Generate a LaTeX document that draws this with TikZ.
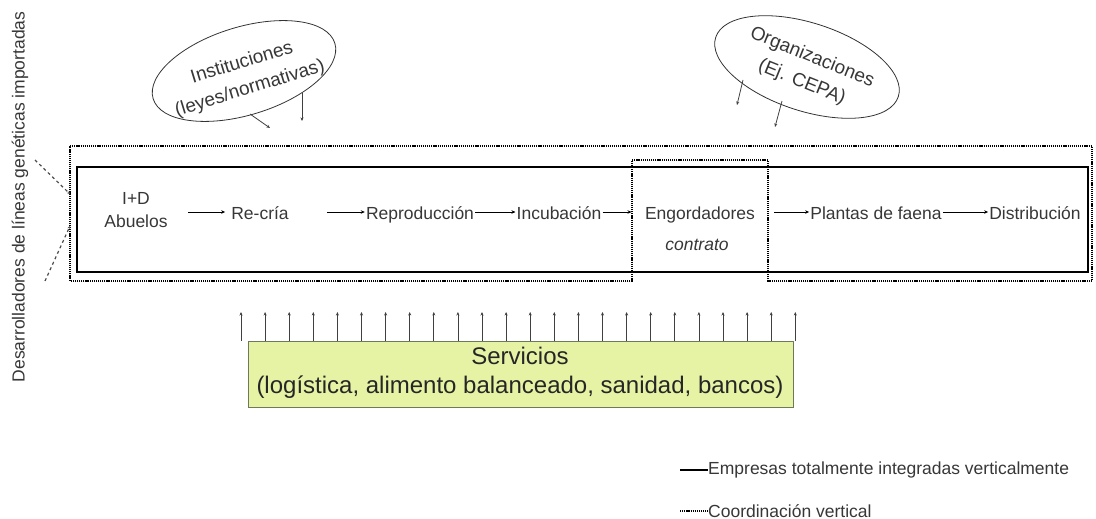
\documentclass[tikz,border=0pt]{standalone}
\usepackage{fontspec}
\setmainfont{Liberation Sans}
\usetikzlibrary{shapes.geometric,arrows.meta}
\definecolor{srvfill}{RGB}{230,243,165}
\definecolor{srvline}{RGB}{110,120,90}
\definecolor{txt}{RGB}{55,55,55}
\begin{document}
\begin{tikzpicture}[x=1pt,y=-1pt,
  lbl/.style={font=\fontsize{17.5}{23}\selectfont, text=txt, inner sep=1pt, align=center},
  chain/.style={lbl, anchor=base},
  elltxt/.style={font=\fontsize{19}{27}\selectfont, text=txt, inner sep=0pt, align=center},
  arr/.style={-{Stealth[length=4pt,width=3.5pt]}, line width=0.7pt},
  tick/.style={-{Stealth[length=3.5pt,width=3pt]}, line width=0.8pt, draw=black!75},
  intbox/.style={line width=2.8pt},
  coordbox/.style={line width=1.8pt, dash pattern=on 1.2pt off 0.9pt},
  ellnode/.style={ellipse, draw=black!80, line width=0.8pt, inner sep=0pt},
  dashline/.style={-{Stealth[length=3pt,width=3pt]}, line width=1.2pt, draw=black!70, dash pattern=on 3pt off 3pt},
]
\useasboundingbox (0,0) rectangle (1096,519);

% vertical label
\node[lbl, rotate=90] (vlab) at (20,197) {Desarrolladores de líneas genéticas importadas};

% coordination (dotted) outline, with the contract box
\draw[coordbox] (70,146) -- (1092,146) -- (1092,281) -- (768,281) -- (768,160)
  -- (632,160) -- (632,281) -- (70,281) -- cycle;

% fully integrated (solid) box
\draw[intbox] (77,167) rectangle (1088,272);

% chain nodes
\coordinate (ay) at (0,212);
\node[lbl] (n1) at (136,210) {I+D\\Abuelos};
\node[chain] (n2) at (260,219) {Re-cría};
\node[chain] (n3) at (420,219) {Reproducción};
\node[chain] (n4) at (559,219) {Incubación};
\node[chain] (n5) at (700,219) {Engordadores};
\node[lbl, font=\fontsize{17.5}{21}\selectfont\itshape] (n5c) at (697,245) {contrato};
\node[chain] (n6) at (876,219) {Plantas de faena};
\node[chain] (n7) at (1035,219) {Distribución};

\draw[arr] ([xshift=-42pt]n2.west |- ay) -- ([xshift=-5pt]n2.west |- ay);
\draw[arr] ([xshift=-38pt]n3.west |- ay) -- (n3.west |- ay);
\draw[arr] (n3.east |- ay) -- (n4.west |- ay);
\draw[arr] (n4.east |- ay) -- ([xshift=29pt]n4.east |- ay);
\draw[arr] ([xshift=-35pt]n6.west |- ay) -- (n6.west |- ay);
\draw[arr] (n6.east |- ay) -- (n7.west |- ay);

% left dashed connectors
\coordinate (dla) at (35,160);
\coordinate (dlae) at (70,194);
\coordinate (dlb) at (45,281);
\coordinate (dlbe) at (70,226);
\draw[dashline] (dla) -- (dlae);
\draw[dashline] (dlb) -- (dlbe);

% ellipse 1
\node[ellnode, minimum width=190pt, minimum height=88pt, rotate=17] (e1) at (244,71) {};
\node[elltxt, rotate=17] (e1t) at (246,76) {Instituciones\\(leyes/normativas)};
\coordinate (e1a) at (250,114);
\coordinate (e1ae) at (270,128);
\coordinate (e1b) at (302,93);
\coordinate (e1be) at (302,121);
\draw[tick] (e1a) -- (e1ae);
\draw[tick] (e1b) -- (e1be);

% ellipse 2
\node[ellnode, minimum width=192pt, minimum height=88pt, rotate=-18] (e2) at (807,67) {};
\node[elltxt, rotate=-22] (e2t) at (807,70) {Organizaciones\\(Ej. CEPA)};
\coordinate (e2a) at (743,80);
\coordinate (e2ae) at (737,105);
\coordinate (e2b) at (782,101);
\coordinate (e2be) at (775,127);
\draw[tick] (e2a) -- (e2ae);
\draw[tick] (e2b) -- (e2be);

% services box
\node[draw=srvline, fill=srvfill, line width=0.8pt, minimum width=545pt, minimum height=66pt, anchor=north west, inner sep=0pt] (srv) at (248,341) {};
\node[font=\fontsize{24}{29}\selectfont, text=black!85, align=center, inner sep=0pt] (srvt) at (520,373) {Servicios\\(logística, alimento balanceado, sanidad, bancos)};
\foreach \i in {0,...,23} {
  \coordinate (sv\i) at (241+24.1*\i, 341);
  \draw[tick] (sv\i) -- ++(0,-29);
}

% legend
\coordinate (l1a) at (680,470);
\coordinate (l1b) at (708,470);
\draw[intbox] (l1a) -- (l1b);
\node[lbl, anchor=west, inner sep=0pt] (l1t) at (l1b) {Empresas totalmente integradas verticalmente};
\coordinate (l2a) at (680,511);
\coordinate (l2b) at (708,511);
\draw[coordbox] (l2a) -- (l2b);
\node[lbl, anchor=west, inner sep=0pt] (l2t) at (l2b) {Coordinación vertical};
\end{tikzpicture}
\end{document}
